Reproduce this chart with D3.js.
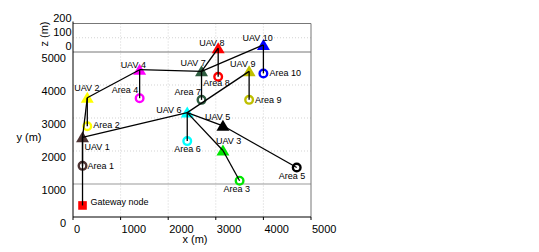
<!DOCTYPE html>
<html><head><meta charset="utf-8">
<script src="https://cdn.jsdelivr.net/npm/d3@7"></script>
<style>body{margin:0;background:#fff}svg{display:block}text{font-family:"Liberation Sans",Arial,Helvetica,sans-serif}</style>
</head><body><svg id="c" width="539" height="252"></svg>
<script>
// ---- data ----
const areaNames = ["Area 1","Area 2","Area 3","Area 4","Area 5","Area 6","Area 7","Area 8","Area 9","Area 10"];
const areaX = [200, 300, 3500, 1400, 4700, 2400, 2700, 3050, 3700, 4000];
const areaY = [1550, 2750, 1100, 3600, 1500, 2300, 3550, 4250, 3550, 4350];
const uavNames = ["UAV 1","UAV 2","UAV 3","UAV 4","UAV 5","UAV 6","UAV 7","UAV 8","UAV 9","UAV 10"];
const uavX = [200, 300, 3150, 1400, 3150, 2400, 2700, 3050, 3700, 4000];
const uavY = [1550, 2750, 1150, 3600, 1900, 2300, 3550, 4250, 3550, 4350];
const uavZ = [200, 200, 200, 200, 200, 200, 200, 200, 200, 200];
const gateway = {name: "Gateway node", x: 200, y: 350, z: 0};
const colors = ["#4d3333","#ffff00","#00e600","#ff00ff","#000000","#00ffff","#2e5c40","#ff0000","#bfbf00","#0000ff"];
// UAV-UAV links (1-based), gateway link handled separately
const links = [[1,2],[2,4],[4,7],[7,8],[7,10],[1,6],[6,9],[6,5],[6,3]];
const xTicks = [0,1000,2000,3000,4000,5000];
const yTicks = [0,1000,2000,3000,4000,5000];
const zTicks = [0,100,200];
// label offsets (px) relative to marker
const uavLabelOff = [[2,10],[-13,-10],[-7,-10],[-19,-5],[-18,-9],[-31,-3],[-21,-8],[-19,-5],[-19,-7],[-21,-7]];
const areaLabelOff = [[5,0],[6,-1],[-16,8],[-28,-8],[-18,8],[-13,8],[-27,-8],[-15,6],[6,0],[6,0]];

// ---- scales ----
const x = d3.scaleLinear().domain([0,5000]).range([73,311]);
const y = d3.scaleLinear().domain([0,5000]).range([217,52]);
const z = d3.scaleLinear().domain([0,200]).range([0,28.5]);
const P = (px,py,pz) => [x(px), y(py) - z(pz)];

const svg = d3.select("#c");
const g = svg.append("g");

// grid
const grid = g.append("g").attr("stroke","#c8c8c8").attr("stroke-width",0.8).attr("stroke-dasharray","1,2");
xTicks.slice(1,-1).forEach(v=>grid.append("line").attr("x1",x(v)).attr("x2",x(v)).attr("y1",y(5000)-z(200)).attr("y2",y(0)));
yTicks.slice(2,-1).forEach(v=>grid.append("line").attr("x1",x(0)).attr("x2",x(5000)).attr("y1",y(v)).attr("y2",y(v)));
zTicks.slice(1,-1).forEach(v=>grid.append("line").attr("x1",x(0)).attr("x2",x(5000)).attr("y1",y(5000)-z(v)).attr("y2",y(5000)-z(v)));

// box edges
const box = g.append("g").attr("stroke","#777").attr("stroke-width",1);
box.append("line").attr("x1",x(0)).attr("x2",x(5000)).attr("y1",y(5000)-z(200)).attr("y2",y(5000)-z(200));
box.append("line").attr("x1",x(0)).attr("x2",x(5000)).attr("y1",y(5000)).attr("y2",y(5000));
box.append("line").attr("x1",x(0)).attr("x2",x(5000)).attr("y1",y(1000)).attr("y2",y(1000)).attr("stroke","#999");
box.append("line").attr("x1",x(5000)).attr("x2",x(5000)).attr("y1",y(5000)-z(200)).attr("y2",y(0));
// main axes
g.append("line").attr("x1",x(0)).attr("x2",x(0)).attr("y1",y(5000)-z(200)-2).attr("y2",y(0)).attr("stroke","#000");
g.append("line").attr("x1",x(0)).attr("x2",x(5000)).attr("y1",y(0)).attr("y2",y(0)).attr("stroke","#000");
xTicks.forEach(v=>g.append("line").attr("x1",x(v)).attr("x2",x(v)).attr("y1",y(0)).attr("y2",y(0)+3).attr("stroke","#000"));

// tick labels
const tl = g.append("g").attr("font-size",11).attr("fill","#000");
xTicks.forEach(v=>tl.append("text").attr("x",x(v)+1).attr("y",229).attr("dominant-baseline","central").text(v));
yTicks.forEach(v=>tl.append("text").attr("x",66).attr("y",y(v)+6).attr("text-anchor","end").attr("dominant-baseline","central").text(v));
zTicks.forEach(v=>tl.append("text").attr("x",71.5).attr("y",y(5000)-z(v)-6).attr("text-anchor","end").attr("dominant-baseline","central").text(v));
tl.append("text").attr("x",195).attr("y",239).attr("text-anchor","middle").attr("dominant-baseline","central").text("x (m)");
tl.append("text").attr("x",29).attr("y",137).attr("text-anchor","middle").attr("dominant-baseline","central").text("y (m)");
tl.append("text").attr("transform","translate(44,34) rotate(-90)").attr("text-anchor","middle").attr("dominant-baseline","central").text("z (m)");

// markers
const mk = g.append("g");
const tri = "M0,-6L6.5,5L-6.5,5Z";
uavNames.forEach((n,i)=>{
  const [px,py] = P(uavX[i],uavY[i],uavZ[i]);
  mk.append("path").attr("d",tri).attr("transform",`translate(${px},${py})`).attr("fill",colors[i]);
});
areaNames.forEach((n,i)=>{
  const [px,py] = P(areaX[i],areaY[i],0);
  mk.append("circle").attr("cx",px).attr("cy",py).attr("r",3.8).attr("fill","none").attr("stroke",colors[i]).attr("stroke-width",2.4);
});
{
  const [px,py] = P(gateway.x,gateway.y,gateway.z);
  mk.append("rect").attr("x",px-4.3).attr("y",py-4.3).attr("width",8.6).attr("height",8.6).attr("fill","#ff0000");
}

// lines
const ln = g.append("g").attr("stroke","#000").attr("stroke-width",1.3).attr("fill","none");
const line = d3.line();
{
  ln.append("path").attr("d",line([P(gateway.x,gateway.y,gateway.z),P(uavX[0],uavY[0],uavZ[0])]));
}
links.forEach(([a,b])=>{
  ln.append("path").attr("d",line([P(uavX[a-1],uavY[a-1],uavZ[a-1]),P(uavX[b-1],uavY[b-1],uavZ[b-1])]));
});
uavNames.forEach((n,i)=>{
  ln.append("path").attr("d",line([P(uavX[i],uavY[i],uavZ[i]),P(areaX[i],areaY[i],0)]));
});

// labels
const lb = g.append("g").attr("font-size",9).attr("fill","#000");
uavNames.forEach((n,i)=>{
  const [px,py] = P(uavX[i],uavY[i],uavZ[i]);
  lb.append("text").attr("x",px+uavLabelOff[i][0]).attr("y",py+uavLabelOff[i][1]).attr("dominant-baseline","central").text(n);
});
areaNames.forEach((n,i)=>{
  const [px,py] = P(areaX[i],areaY[i],0);
  lb.append("text").attr("x",px+areaLabelOff[i][0]).attr("y",py+areaLabelOff[i][1]).attr("dominant-baseline","central").text(n);
});
{
  const [px,py] = P(gateway.x,gateway.y,gateway.z);
  lb.append("text").attr("x",px+8).attr("y",py-3).attr("dominant-baseline","central").text(gateway.name);
}
</script></body></html>
